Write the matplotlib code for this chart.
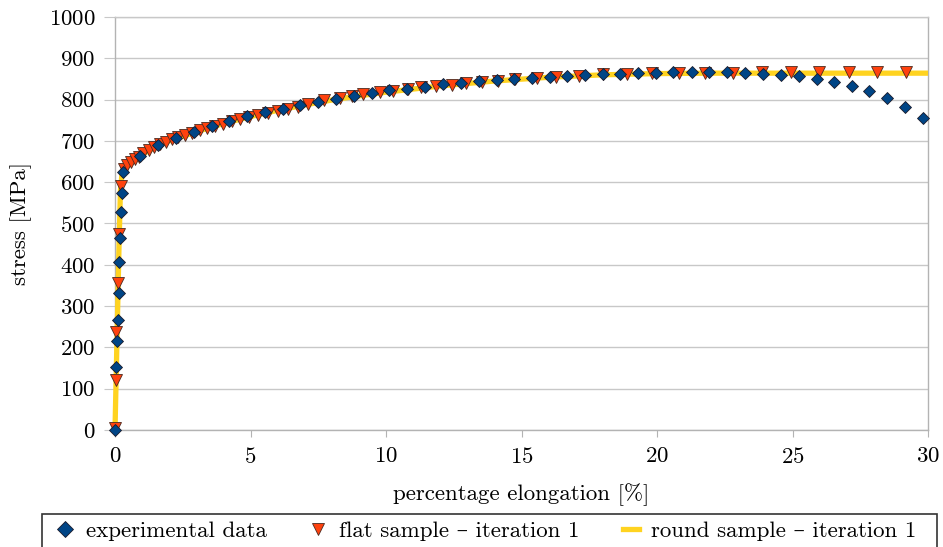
import matplotlib
matplotlib.use("Agg")
import matplotlib.pyplot as plt
from matplotlib.lines import Line2D
from matplotlib.patches import Rectangle

plt.rcParams['font.family'] = ['cmr10', 'DejaVu Serif']
plt.rcParams['axes.formatter.use_mathtext'] = True

# experimental data
exp_x = [0, 0.04, 0.085, 0.11, 0.13, 0.16, 0.18, 0.21, 0.26, 0.28, 0.93, 1.58, 2.25, 2.91,
         3.57, 4.22, 4.88, 5.53, 6.19, 6.84, 7.49, 8.17, 8.83, 9.47, 10.12, 10.76, 11.44,
         12.09, 12.77, 13.44, 14.08, 14.73, 15.40, 16.05, 16.69, 17.34, 18.0, 18.65, 19.3,
         19.96, 20.6, 21.28, 21.93, 22.6, 23.25, 23.9, 24.56, 25.23, 25.89, 26.53, 27.2,
         27.83, 28.48, 29.15, 29.8]
exp_y = [0, 152, 216, 266, 331, 406, 466, 528, 575, 624, 663, 691, 708, 722,
         735, 749, 760, 770, 778, 787, 795, 801, 809, 817, 823, 826, 830,
         837, 840, 845, 847, 851, 852, 855, 857, 859, 862, 863, 865,
         865, 866, 866, 866, 866, 865, 863, 860, 857, 851, 843, 833,
         820, 804, 782, 755]

# flat sample, iteration 1
flat_x = [0, 0.03, 0.05, 0.1, 0.16, 0.21, 0.33, 0.45, 0.58, 0.72, 0.88, 1.05, 1.24, 1.44,
          1.65, 1.87, 2.1, 2.34, 2.59, 2.85, 3.12, 3.4, 3.69, 3.99, 4.3, 4.62, 4.95, 5.29,
          5.64, 6.0, 6.37, 6.75, 7.13, 7.71, 8.3, 8.75, 9.16, 9.78, 10.25, 10.8, 11.3, 11.86,
          12.42, 12.97, 13.56, 14.15, 14.76, 15.56, 16.27, 17.13, 18.02, 18.88, 19.82, 20.82,
          21.77, 22.8, 23.86, 24.93, 25.98, 27.07, 28.11, 29.2]
flat_y = [4, 121, 238, 356, 474, 590, 632, 641, 648, 655, 662, 670, 678, 686,
          692, 698, 704, 710, 715, 720, 726, 731, 737, 742, 748, 753, 758, 763,
          768, 772, 777, 782, 790, 798, 804, 809, 814, 819, 822, 826, 830, 834,
          836, 840, 843, 846, 850, 852, 854, 857, 862, 863, 864, 864,
          865, 865, 866, 866, 866, 866, 866, 866]

# round sample, iteration 1
round_x = [0, 0.05, 0.1, 0.15, 0.2, 0.25, 0.35, 0.5, 0.75, 1, 1.5, 2, 3, 4, 5, 6, 7, 8,
           9, 10, 12, 14, 16, 18, 20, 22, 25, 30]
round_y = [0, 150, 300, 450, 580, 615, 632, 642, 655, 667, 686, 700, 722, 742, 759, 774,
           787, 799, 809, 818, 833, 845, 854, 860, 863, 864, 864, 864]

blue = '#004586'
orange = '#ff420e'
yellow = '#ffd320'
grid_c = '#c8c8c8'
fs = 16.5

fig = plt.figure(figsize=(9.43, 5.47), dpi=100)
ax = fig.add_axes([115 / 943, 117 / 547, 813 / 943, 413 / 547])

ax.plot(round_x, round_y, color=yellow, lw=3.8, zorder=3, clip_on=False,
        solid_capstyle='butt')
ax.plot(flat_x, flat_y, 'v', ms=8, color=orange, mec='#4a2a20', mew=0.6,
        zorder=4, clip_on=False)
ax.plot(exp_x, exp_y, 'D', ms=6.5, color=blue, mec='#1a1a2a', mew=0.6,
        zorder=5, clip_on=False)

ax.set_xlim(0, 30)
ax.set_ylim(0, 1000)
ax.set_xticks(range(0, 31, 5))
ax.set_yticks(range(0, 1001, 100))
ax.grid(axis='y', color=grid_c, lw=1)
ax.set_axisbelow(True)
for s in ['left', 'right', 'bottom', 'top']:
    ax.spines[s].set_color('#b3b3b3')
    ax.spines[s].set_linewidth(1)
ax.spines['top'].set_color(grid_c)
ax.tick_params(axis='y', length=8, color=grid_c, pad=6, labelsize=fs)
ax.tick_params(axis='x', length=5, color='#b3b3b3', pad=7, labelsize=fs)

ax.set_xlabel('percentage elongation [%]', fontsize=fs, labelpad=12)
ax.set_ylabel('stress [MPa]', fontsize=fs, labelpad=12)

# legend box runs past the bottom edge of the figure
fig.patches.append(Rectangle((42 / 943, -0.05), 895 / 943, 0.05 + 33 / 547,
                             transform=fig.transFigure, fill=False,
                             edgecolor='#333333', lw=1.2))

handles = [
    Line2D([], [], marker='D', ls='none', ms=8, color=blue, mec='#1a1a2a', mew=0.6),
    Line2D([], [], marker='v', ls='none', ms=8, color=orange, mec='#4a2a20', mew=0.6),
    Line2D([], [], color=yellow, lw=3.8),
]
labels = ['experimental data', 'flat sample – iteration 1', 'round sample – iteration 1']
fig.legend(handles, labels, loc='upper left', ncol=3,
           bbox_to_anchor=(50 / 943, 1 - 514 / 547),
           frameon=False, fontsize=fs, handlelength=0.7, handletextpad=0.55,
           columnspacing=1.9, borderaxespad=0, borderpad=0.3)

fig.savefig('out.png', dpi=100)
